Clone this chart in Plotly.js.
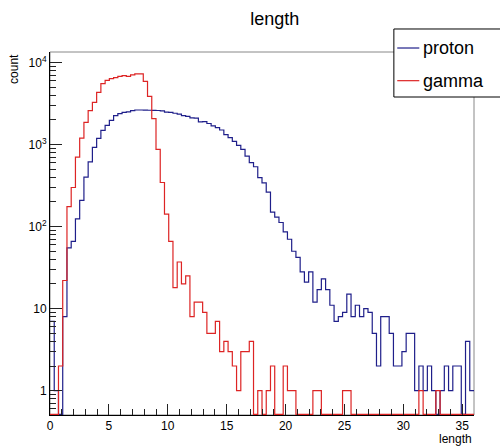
<!DOCTYPE html>
<html>
<head>
<meta charset="utf-8">
<script src="https://cdn.plot.ly/plotly-3.0.1.min.js"></script>
<style>html,body{margin:0;padding:0;background:#fff;}#chart{width:500px;height:447px;}</style>
</head>
<body>
<div id="chart"></div>
<script>
// Histogram definition: 100 bins from 0 to 36
const binLow = 0;
const binHigh = 36;
const nBins = 100;

// Counts per bin
const protonCounts = [
  7, 1, 0, 8, 55, 66, 124, 208, 400, 615,
  919, 1183, 1483, 1706, 1963, 2239, 2368, 2455, 2500, 2577,
  2626, 2626, 2620, 2610, 2600, 2590, 2560, 2480, 2460, 2400,
  2340, 2250, 2200, 2110, 2090, 1880, 1900, 1800, 1680, 1600,
  1500, 1320, 1210, 1090, 975, 870, 720, 600, 535, 395,
  340, 262, 150, 130, 112, 86, 70, 50, 42, 28,
  21, 28, 12, 17, 23, 17, 11, 7, 8, 9,
  15, 8, 11, 8, 10, 9, 5, 2, 8, 8,
  5, 2, 2, 3, 5, 5, 1, 2, 1, 2,
  1, 0, 1, 2, 1, 2, 2, 0, 4, 1
];
const gammaCounts = [
  0, 0, 2, 22, 175, 299, 702, 1197, 1854, 2577,
  3254, 4305, 5500, 6030, 6325, 6500, 6750, 6880, 6750, 7020,
  7220, 7220, 5870, 3850, 2060, 870, 344, 142, 66, 18,
  37, 20, 25, 8, 12, 12, 9, 5, 5, 7,
  3, 4, 3, 2, 1, 3, 3, 4, 0, 1,
  0, 1, 2, 0, 0, 2, 1, 1, 0, 0,
  0, 0, 1, 1, 0, 0, 0, 0, 0, 1,
  1, 0, 0, 0, 0, 0, 0, 0, 0, 0,
  0, 0, 0, 0, 0, 0, 0, 1, 0, 0,
  0, 1, 0, 0, 0, 0, 0, 0, 0, 0
];

const seriesNames = ['proton', 'gamma'];
const seriesColors = ['#1f1f8a', '#dd2424'];
const yTickVals = [1, 10, 100, 1000, 10000];
const yTickText = ['1', '10', '10<sup>2</sup>', '10<sup>3</sup>', '10<sup>4</sup>'];
const xTickVals = [0, 5, 10, 15, 20, 25, 30, 35];

// axis limits
const yMin = 0.506, yMax = 13370;
// empty bins are drawn on the bottom of the frame, as ROOT does
const emptyFloor = 0.515;

const binW = (binHigh - binLow) / nBins;
const edges = Array.from({length: nBins + 1}, (_, i) => binLow + i * binW);

function stepTrace(counts, name, color) {
  const ys = counts.map(v => v > 0 ? v : emptyFloor);
  ys.push(ys[ys.length - 1]);
  return {
    type: 'scatter', mode: 'lines', name: name,
    x: edges, y: ys,
    line: {shape: 'hv', color: color, width: 1.2},
    hoverinfo: 'skip', showlegend: false
  };
}

const data = [
  stepTrace(protonCounts, seriesNames[0], seriesColors[0]),
  stepTrace(gammaCounts, seriesNames[1], seriesColors[1])
];

const font = 'Liberation Sans, Arial, Helvetica, sans-serif';

// ROOT-style legend box (top right, partly outside the canvas)
const legBox = {x0: 0.811, x1: 1.12, y0: 0.876, y1: 1.0634};
const legRowsY = [1.011, 0.921];
const legLineX = [0.819, 0.871];
const legTextX = 0.875;

const shapes = [
  {type: 'rect', xref: 'paper', yref: 'paper', x0: 0, x1: 1, y0: 0, y1: 1,
   line: {color: '#888', width: 1}, layer: 'below'},
  {type: 'rect', xref: 'paper', yref: 'paper', x0: legBox.x0, x1: legBox.x1, y0: legBox.y0, y1: legBox.y1,
   line: {color: '#000', width: 1}, fillcolor: '#ffffff', layer: 'above'}
];
const annotations = [
  {text: 'count', xref: 'paper', yref: 'paper', x: -0.085, y: 1.0,
   xanchor: 'center', yanchor: 'top', textangle: -90, showarrow: false,
   font: {family: font, size: 12, color: '#000'}},
  {text: 'length', xref: 'paper', yref: 'paper', x: 1.0, y: -0.066,
   xanchor: 'right', yanchor: 'middle', showarrow: false,
   font: {family: font, size: 12, color: '#000'}}
];
seriesNames.forEach((name, k) => {
  shapes.push({type: 'line', xref: 'paper', yref: 'paper',
    x0: legLineX[0], x1: legLineX[1], y0: legRowsY[k], y1: legRowsY[k],
    line: {color: seriesColors[k], width: 1.2}, layer: 'above'});
  annotations.push({text: name, xref: 'paper', yref: 'paper', x: legTextX, y: legRowsY[k],
    xanchor: 'left', yanchor: 'middle', showarrow: false,
    font: {family: font, size: 18, color: '#000'}});
});

const layout = {
  width: 500, height: 447,
  margin: {l: 50, r: 26, t: 52, b: 32, pad: 0},
  paper_bgcolor: '#ffffff', plot_bgcolor: '#ffffff',
  font: {family: font, size: 12, color: '#000'},
  title: {text: 'length', font: {family: font, size: 18, color: '#000'},
          x: 0.53, xref: 'paper', xanchor: 'center', y: 0.958, yref: 'container', yanchor: 'middle'},
  showlegend: false,
  xaxis: {
    range: [binLow, binHigh], showgrid: false, zeroline: false,
    showline: true, linecolor: '#000', linewidth: 1,
    ticks: 'inside', ticklen: 11, tickcolor: '#222', tickwidth: 1,
    tickmode: 'array', tickvals: xTickVals,
    tickfont: {family: font, size: 12, color: '#000'},
    minor: {ticks: 'inside', ticklen: 6, dtick: 1, tick0: 0, tickcolor: '#222', tickwidth: 1, showgrid: false}
  },
  yaxis: {
    type: 'log', range: [Math.log10(yMin), Math.log10(yMax)],
    showgrid: false, zeroline: false,
    showline: true, linecolor: '#000', linewidth: 1,
    ticks: 'inside', ticklen: 12, tickcolor: '#222', tickwidth: 1,
    tickmode: 'array', tickvals: yTickVals, ticktext: yTickText,
    tickfont: {family: font, size: 12, color: '#000'},
    minor: {ticks: 'inside', ticklen: 6, dtick: 'D1', tickcolor: '#222', tickwidth: 1, showgrid: false}
  },
  shapes: shapes,
  annotations: annotations
};

Plotly.newPlot('chart', data, layout, {displayModeBar: false, staticPlot: true});
</script>
</body>
</html>
